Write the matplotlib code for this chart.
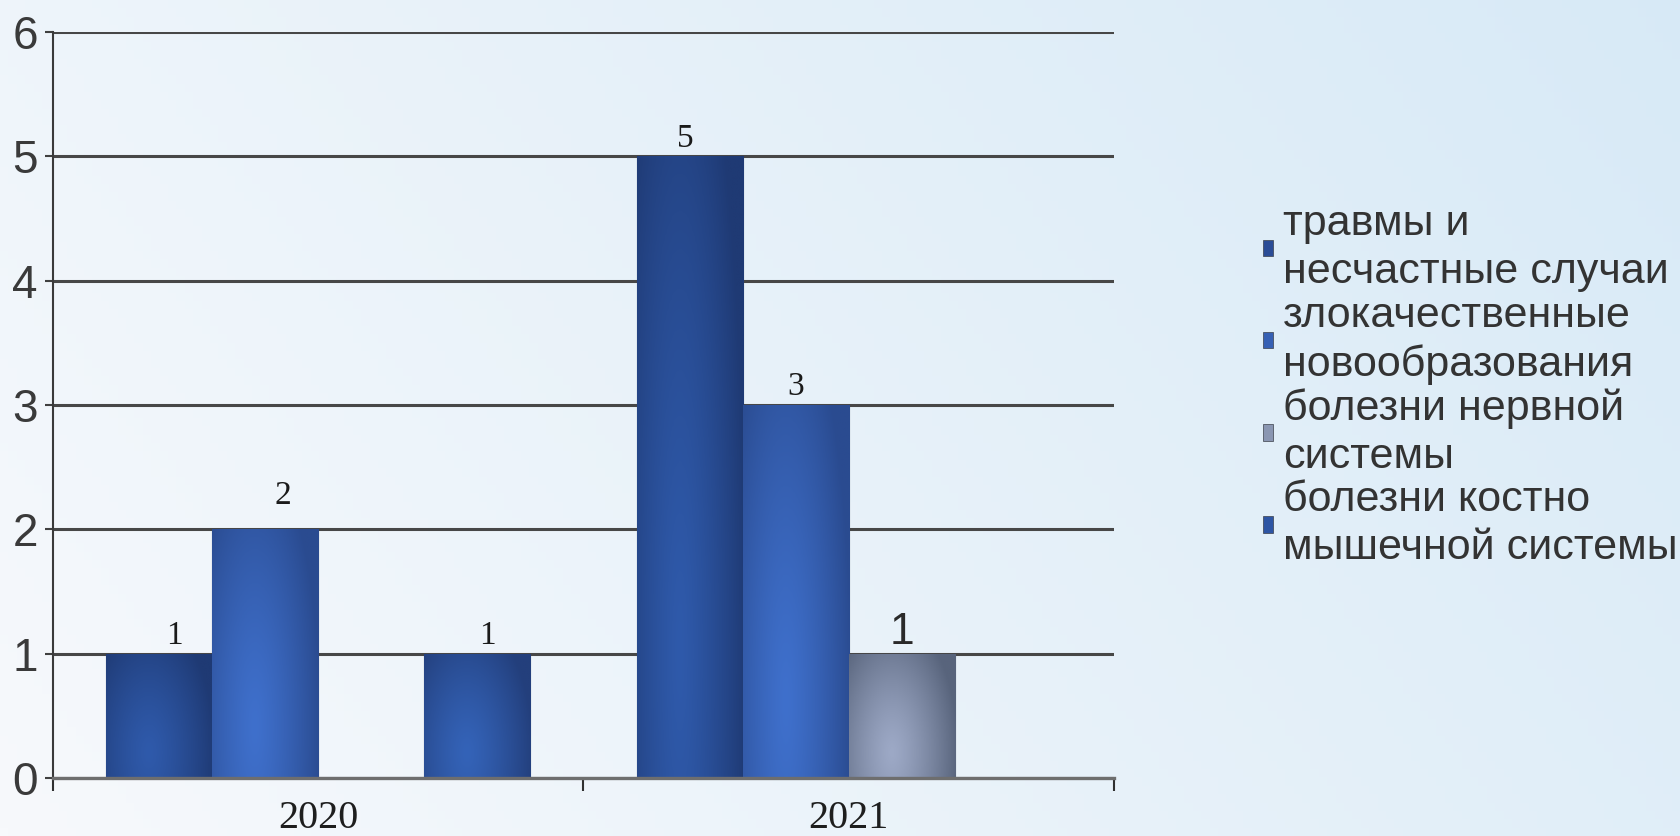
"""plot.py"""

import matplotlib
matplotlib.use("Agg")
import matplotlib.pyplot as plt
import numpy as np
from matplotlib.colors import to_rgb
from matplotlib.patches import Patch

years = ["2020", "2021"]
series_names = [
    "травмы и\nнесчастные случаи",
    "злокачественные\nновообразования",
    "болезни нервной\nсистемы",
    "болезни костно\nмышечной системы",
]
trauma = [1, 5]
cancer = [2, 3]
nervous = [0, 1]
musculo = [1, 0]
series_values = [trauma, cancer, nervous, musculo]

# (light, dark) colours for the gradient fill of each series
series_colors = [
    ("#2f5aab", "#1f3a74"),
    ("#3f70cc", "#2a4b90"),
    ("#9da9c6", "#58647c"),
    ("#3463b8", "#233f7c"),
]
legend_colors = ["#2a4c96", "#3660b4", "#8a96b2", "#2d55a4"]
label_serif = [True, True, False, True]
# small label shifts (points) as in the original slide
label_nudge = {(0, 0): (11, 0), (1, 0): (13, 11), (3, 0): (7, 0), (0, 1): (-3, 0)}


def gradient_image(light, dark, n=64):
    """light area low in the bar, darker toward the top and the sides"""
    xx, yy = np.meshgrid(np.linspace(0, 1, n), np.linspace(0, 1, n))
    d = np.sqrt(((xx - 0.4) / 0.9) ** 2 + ((yy - 0.2) / 1.6) ** 2)
    t = np.clip(d / 0.7, 0, 1)[..., None] ** 1.3
    lo = np.array(to_rgb(light))
    hi = np.array(to_rgb(dark))
    return lo * (1 - t) + hi * t


fig = plt.figure(figsize=(16.8, 8.36), dpi=100)

# slide background
bg = fig.add_axes([0, 0, 1, 1], zorder=-10)
gx, gy = np.meshgrid(np.linspace(0, 1, 200), np.linspace(0, 1, 100))
tb = np.clip(0.65 * gx + 0.25 * gy, 0, 1)[..., None]
c0 = np.array(to_rgb("#f7f9fc"))
c1 = np.array(to_rgb("#d4e8f6"))
bg.imshow(c0 * (1 - tb) + c1 * tb, extent=[0, 1, 0, 1], aspect="auto", origin="lower")
bg.axis("off")

ax = fig.add_axes([0.0315, 0.0694, 0.6316, 0.8923])
ax.set_facecolor("none")

x = np.arange(len(years))
width = 0.2

for i, vals in enumerate(series_values):
    offset = (i - 1.5) * width
    light, dark = series_colors[i]
    for j, v in enumerate(vals):
        if v == 0:
            continue
        xc = x[j] + offset
        bars = ax.bar(xc, v, width, color=dark, edgecolor="#3a3f4a",
                      linewidth=0.8, zorder=3)
        img = ax.imshow(gradient_image(light, dark),
                        extent=[xc - width / 2, xc + width / 2, 0, v],
                        origin="lower", aspect="auto", zorder=3.5)
        img.set_clip_path(bars.patches[0])
        dx, dy = label_nudge.get((i, j), (0, 0))
        if label_serif[i]:
            ax.annotate(str(v), (xc, v), xytext=(dx, 7 + dy), textcoords="offset points",
                        ha="center", va="baseline", fontsize=24,
                        family="Liberation Serif", color="#1a1a1a")
        else:
            ax.annotate(str(v), (xc, v), xytext=(dx, 7 + dy), textcoords="offset points",
                        ha="center", va="baseline", fontsize=32,
                        family="Liberation Sans", color="#2a2a2a")

ax.set_xlim(-0.5, 1.5)
ax.set_ylim(0, 6)
ax.set_yticks(range(0, 7))
ax.yaxis.grid(True, color="#474747", linewidth=2.2, zorder=1)
ax.set_axisbelow(True)

ax.set_xticks([-0.5, 0.5, 1.5])
ax.set_xticklabels([])
ax.set_xticks(x, minor=True)
ax.set_xticklabels(years, minor=True, fontsize=29, family="Liberation Serif",
                   color="#1e1e1e")
ax.tick_params(axis="x", which="minor", length=0, pad=16)
ax.tick_params(axis="x", which="major", length=9, width=1.5, color="#303030",
               direction="out")
ax.tick_params(axis="y", length=6, width=1.5, color="#404040", pad=5,
               labelsize=33, labelcolor="#3a3a3a")
for lab in ax.get_yticklabels():
    lab.set_family("Liberation Sans")

for side in ["top", "right"]:
    ax.spines[side].set_visible(False)
ax.spines["left"].set_color("#3a3a3a")
ax.spines["left"].set_linewidth(1.5)
ax.spines["bottom"].set_color("#6e6e6e")
ax.spines["bottom"].set_linewidth(2.4)
ax.spines["bottom"].set_zorder(4)

handles = [Patch(facecolor=c, edgecolor="#3a3f4a", linewidth=0.5) for c in legend_colors]
leg = fig.legend(handles, series_names, loc="center left",
                 bbox_to_anchor=(0.752, 0.538), frameon=False,
                 prop={"family": "Liberation Sans", "size": 31},
                 labelcolor="#333333", handlelength=0.22, handleheight=0.22,
                 handletextpad=0.23, labelspacing=0.08, borderpad=0, borderaxespad=0)
for t in leg.get_texts():
    t.set_linespacing(1.26)

fig.savefig("out.png", dpi=100)
